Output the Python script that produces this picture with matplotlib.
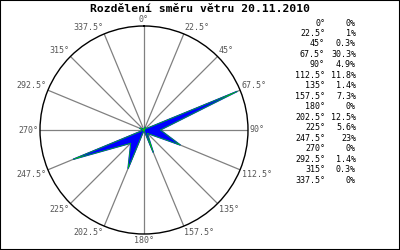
import numpy as np
import matplotlib
matplotlib.use("Agg")
import matplotlib.pyplot as plt

title = "Rozdělení směru větru 20.11.2010"
directions = [0, 22.5, 45, 67.5, 90, 112.5, 135, 157.5,
              180, 202.5, 225, 247.5, 270, 292.5, 315, 337.5]
direction_labels = ["0°", "22.5°", "45°", "67.5°", "90°", "112.5°", "135°", "157.5°",
                    "180°", "202.5°", "225°", "247.5°", "270°", "292.5°", "315°", "337.5°"]
percent = [0, 1, 0.3, 30.3, 4.9, 11.8, 1.4, 7.3, 0, 12.5, 5.6, 23, 0, 1.4, 0.3, 0]
percent_labels = ["0%", "1%", "0.3%", "30.3%", "4.9%", "11.8%", "1.4%", "7.3%",
                  "0%", "12.5%", "5.6%", "23%", "0%", "1.4%", "0.3%", "0%"]

rmax = 31.2
mono = "DejaVu Sans Mono"

fig = plt.figure(figsize=(4, 2.5), dpi=100)
fig.patch.set_facecolor("white")
ax = fig.add_axes([0.1, 0.064, 0.52, 0.832], projection="polar")
ax.set_theta_zero_location("N")
ax.set_theta_direction(-1)
ax.set_ylim(0, rmax)
ax.grid(False)
ax.set_xticks([])
ax.set_yticks([])
ax.spines["polar"].set_color("black")
ax.spines["polar"].set_linewidth(1.0)

theta = np.deg2rad(directions)
for t in theta:
    ax.plot([t, t], [0, rmax], color="#808080", lw=0.9, zorder=1)

th = np.append(theta, theta[0])
pc = np.append(percent, percent[0])
ax.fill(th, pc, color="#0000ff", zorder=2)
ax.plot(th, pc, color="#00cc00", lw=0.5, zorder=3)

for t, d, lab in zip(theta, directions, direction_labels):
    s, c = np.sin(t), np.cos(t)
    ha = "center" if abs(s) < 0.1 else ("left" if s > 0 else "right")
    va = "center" if abs(c) < 0.1 else ("bottom" if c > 0 else "top")
    ax.text(t, rmax * 1.015, lab, ha=ha, va=va, fontsize=6,
            family=mono, color="#555555")

fig.text(0.5, 0.964, title, ha="center", va="center", fontsize=8.2,
         family=mono, fontweight="bold")

for i, (dl, pl) in enumerate(zip(direction_labels, percent_labels)):
    y = 1 - (23 + i * 10.47) / 250
    fig.text(325 / 400, y, dl, ha="right", va="center", fontsize=6, family=mono)
    fig.text(356 / 400, y, pl, ha="right", va="center", fontsize=6, family=mono)

fig.add_artist(plt.Rectangle((0, 0), 1, 1, transform=fig.transFigure,
                             fill=False, edgecolor="black", lw=1.5))
fig.savefig("out.png", dpi=100)
